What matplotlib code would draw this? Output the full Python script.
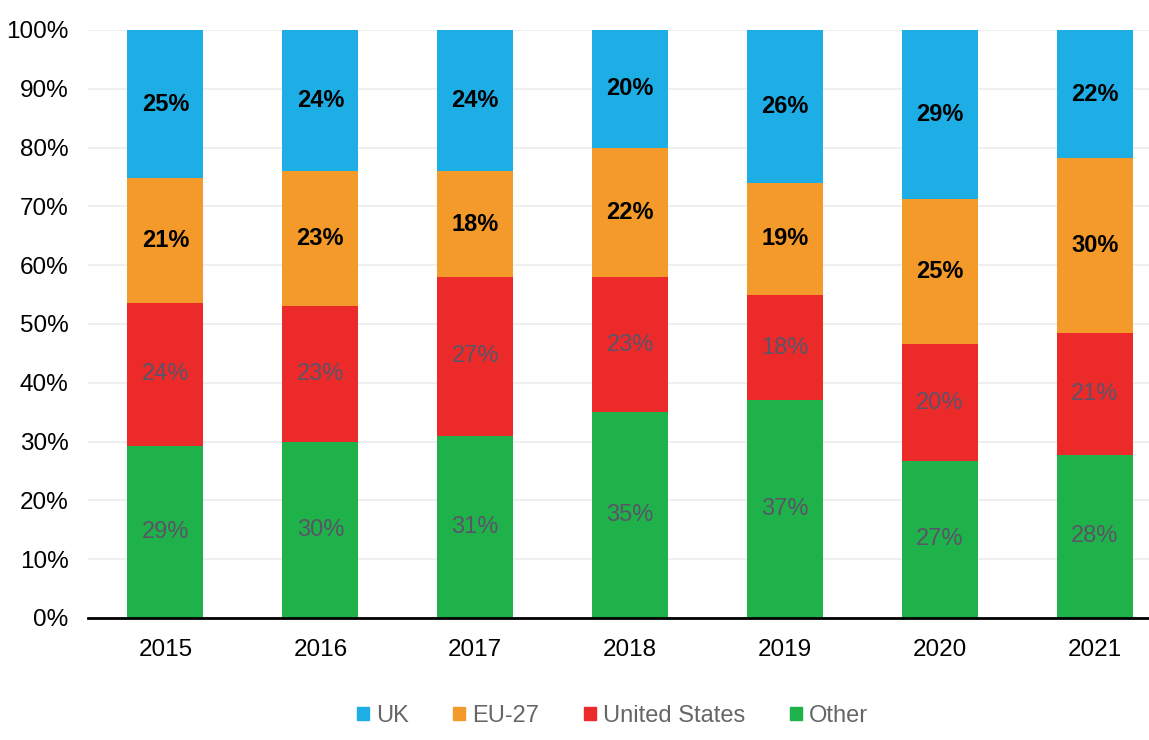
import matplotlib
matplotlib.use("Agg")
import matplotlib.pyplot as plt
import numpy as np
from matplotlib.patches import Patch

years = ["2015", "2016", "2017", "2018", "2019", "2020", "2021"]
other = [29, 30, 31, 35, 37, 27, 28]
united_states = [24, 23, 27, 23, 18, 20, 21]
eu27 = [21, 23, 18, 22, 19, 25, 30]
uk = [25, 24, 24, 20, 26, 29, 22]

series = [
    ("Other", other, "#1fb24a", "#5a5468", "normal"),
    ("United States", united_states, "#ed2a2a", "#5a5468", "normal"),
    ("EU-27", eu27, "#f49a2a", "black", "bold"),
    ("UK", uk, "#1eaee6", "black", "bold"),
]

plt.rcParams["font.family"] = ["Liberation Sans", "DejaVu Sans"]

fig = plt.figure(figsize=(11.49, 7.40), dpi=100)
ax = fig.add_axes([88 / 1149, 1 - 618 / 740, 1061 / 1149, 588 / 740])

x = np.arange(len(years))
totals = np.sum([s[1] for s in series], axis=0).astype(float)
bottom = np.zeros(len(years))
for name, vals, color, tcol, weight in series:
    share = np.array(vals) / totals * 100
    ax.bar(x, share, 0.49, bottom=bottom, color=color, zorder=2)
    for xi, b, h, v in zip(x, bottom, share, vals):
        ax.text(xi, b + h / 2, f"{v}%", ha="center", va="center",
                fontsize=17, color=tcol, fontweight=weight, zorder=3)
    bottom += share

ax.set_xlim(-0.5, 6.35)
ax.set_ylim(0, 100)
ax.set_yticks(np.arange(0, 101, 10))
ax.set_yticklabels([f"{v}%" for v in range(0, 101, 10)])
ax.set_xticks(x)
ax.set_xticklabels(years)
ax.tick_params(axis="both", length=0, labelsize=17.5, colors="black")
ax.tick_params(axis="y", pad=14)
ax.tick_params(axis="x", pad=15)
ax.yaxis.grid(True, color="#ececec", linewidth=1.2, zorder=0)
ax.set_axisbelow(True)
for side in ["top", "right", "left"]:
    ax.spines[side].set_visible(False)
ax.spines["bottom"].set_color("black")
ax.spines["bottom"].set_linewidth(2)
ax.spines["bottom"].set_zorder(4)

handles = [Patch(color=c, label=n) for n, _, c, _, _ in reversed(series)]
leg = fig.legend(handles=handles, loc="center", bbox_to_anchor=(0.533, 1 - 716 / 740),
                 ncol=4, frameon=False, fontsize=17, handlelength=0.5,
                 handleheight=0.5, handletextpad=0.3, columnspacing=1.9)
for t in leg.get_texts():
    t.set_color("#666666")

fig.savefig("out.png", dpi=100, facecolor="white")
